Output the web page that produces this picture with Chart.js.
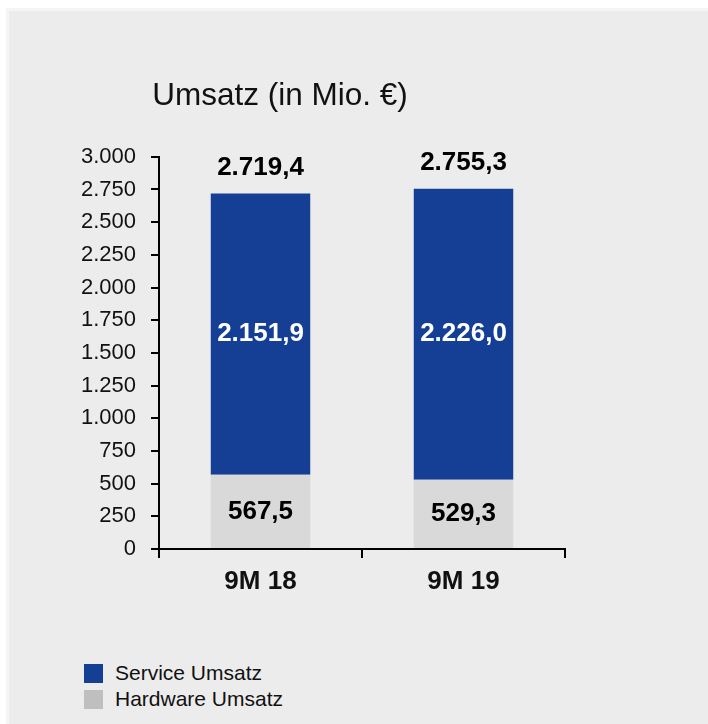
<!DOCTYPE html>
<html>
<head>
<meta charset="utf-8">
<script src="https://cdn.jsdelivr.net/npm/chart.js@4.4.1/dist/chart.umd.min.js"></script>
<style>
  body { margin: 0; background: #fff; }
  #frame { position: absolute; left: 6px; top: 8px; width: 702px; height: 716px; background: #f5f5f5; }
  #panel { position: absolute; left: 9px; top: 11px; width: 699px; height: 713px; background: #ececec; }
  #umsatzChart { position: absolute; left: 0; top: 0; }
  #legend { position: absolute; left: 75px; top: 649px; font-family: 'Liberation Sans', Arial, sans-serif; font-size: 21px; color: #111; }
  .item { display: flex; align-items: center; height: 26px; }
  .box { width: 19px; height: 19px; margin-right: 12px; }
</style>
</head>
<body>
<div id="frame"></div>
<div id="panel">
  <canvas id="umsatzChart" width="699" height="629"></canvas>
  <div id="legend"></div>
</div>
<script>
// data
var periods = ['9M 18', '9M 19'];
var hardwareUmsatz = [567.5, 529.3];
var serviceUmsatz = [2151.9, 2226.0];
var yTicks = [0, 250, 500, 750, 1000, 1250, 1500, 1750, 2000, 2250, 2500, 2750, 3000];

function fmtThousands(n) {
  return String(Math.round(n)).replace(/\B(?=(\d{3})+(?!\d))/g, '.');
}
function fmtValue(n) {
  var parts = n.toFixed(1).split('.');
  return fmtThousands(Number(parts[0])) + ',' + parts[1];
}

// labels on and above the bars
var barLabels = {
  id: 'barLabels',
  afterDatasetsDraw: function(chart) {
    var ctx = chart.ctx;
    ctx.save();
    ctx.font = 'bold 26px "Liberation Sans", Arial, sans-serif';
    ctx.textAlign = 'center';
    ctx.textBaseline = 'middle';
    chart.data.datasets.forEach(function(ds, i) {
      chart.getDatasetMeta(i).data.forEach(function(bar, j) {
        ctx.fillStyle = ds.labelColor;
        ctx.fillText(fmtValue(ds.data[j]), bar.x, (bar.y + bar.base) / 2);
      });
    });
    var topMeta = chart.getDatasetMeta(chart.data.datasets.length - 1);
    topMeta.data.forEach(function(bar, j) {
      var total = hardwareUmsatz[j] + serviceUmsatz[j];
      ctx.fillStyle = '#000';
      ctx.fillText(fmtValue(total), bar.x, bar.y - 26);
    });
    ctx.restore();
  }
};

var chart = new Chart(document.getElementById('umsatzChart'), {
  type: 'bar',
  data: {
    labels: periods,
    datasets: [
      { label: 'Hardware Umsatz', data: hardwareUmsatz, backgroundColor: '#d9d9d9', legendColor: '#bfbfbf', labelColor: '#000' },
      { label: 'Service Umsatz', data: serviceUmsatz, backgroundColor: '#153f94', legendColor: '#153f94', labelColor: '#fff' }
    ]
  },
  options: {
    responsive: false,
    animation: false,
    // negative left padding so the centred title lands where the source has it
    layout: { padding: { left: -14, right: 143, top: 0, bottom: 0 } },
    datasets: { bar: { categoryPercentage: 1, barPercentage: 0.49, borderWidth: 0 } },
    plugins: {
      legend: { display: false },
      tooltip: { enabled: false },
      title: {
        display: true,
        text: 'Umsatz (in Mio. €)',
        align: 'center',
        color: '#111',
        font: { family: '"Liberation Sans", Arial, sans-serif', size: 31.5, weight: 'normal', lineHeight: 1.2 },
        padding: { top: 66, bottom: 42 }
      }
    },
    scales: {
      x: {
        stacked: true,
        grid: { display: true, drawOnChartArea: false, tickLength: 9, color: '#000', lineWidth: 2 },
        border: { display: true, color: '#000', width: 2 },
        ticks: {
          color: '#111',
          padding: 8,
          font: { family: '"Liberation Sans", Arial, sans-serif', size: 26, weight: 'bold' }
        },
        afterFit: function(scale) { scale.height = 91; }
      },
      y: {
        stacked: true,
        min: 0,
        max: 3000,
        afterBuildTicks: function(scale) {
          scale.ticks = yTicks.map(function(v) { return { value: v }; });
        },
        grid: { display: true, drawOnChartArea: false, tickLength: 8, color: '#000', lineWidth: 2 },
        border: { display: true, color: '#000', width: 2 },
        ticks: {
          autoSkip: false,
          color: '#111',
          padding: 15,
          font: { family: '"Liberation Sans", Arial, sans-serif', size: 22 },
          callback: function(v) { return fmtThousands(v); }
        },
        afterFit: function(scale) { scale.width = 164; }
      }
    }
  },
  plugins: [barLabels]
});

// legend: service first, as in the source
var legendEl = document.getElementById('legend');
chart.data.datasets.slice().reverse().forEach(function(ds) {
  var row = document.createElement('div');
  row.className = 'item';
  var box = document.createElement('span');
  box.className = 'box';
  box.style.background = ds.legendColor;
  var txt = document.createElement('span');
  txt.textContent = ds.label;
  row.appendChild(box);
  row.appendChild(txt);
  legendEl.appendChild(row);
});
</script>
</body>
</html>
